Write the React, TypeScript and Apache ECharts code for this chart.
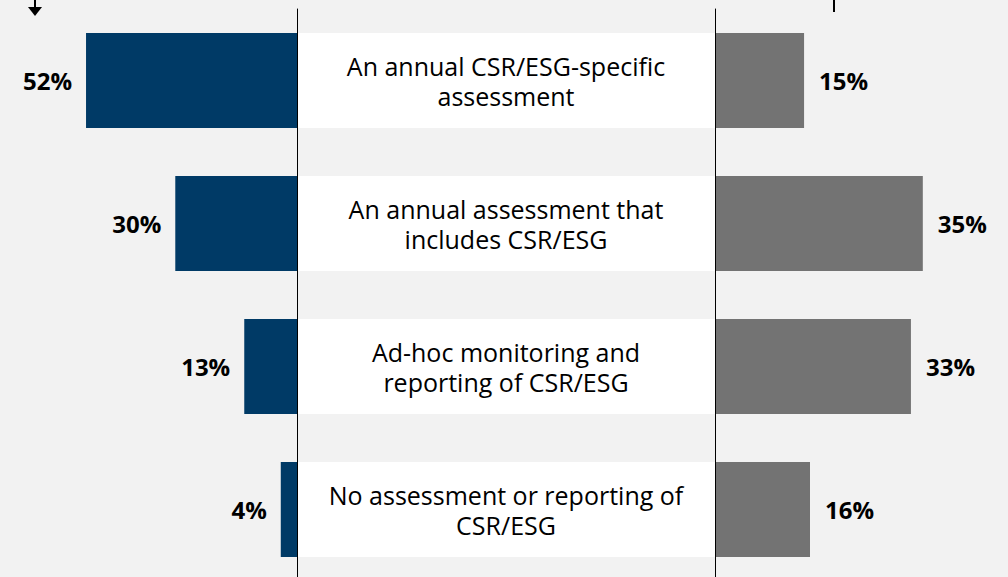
import React, { useEffect, useRef } from "react";
import * as echarts from "echarts";

const categories = [
  "An annual CSR/ESG-specific\nassessment",
  "An annual assessment that\nincludes CSR/ESG",
  "Ad-hoc monitoring and\nreporting of CSR/ESG",
  "No assessment or reporting of\nCSR/ESG",
];
const leftValues = [52, 30, 13, 4];
const rightValues = [15, 35, 33, 16];
const boxValues = [1, 1, 1, 1];

const FONT = "'Open Sans', 'Noto Sans', sans-serif";

export default function App() {
  const ref = useRef<HTMLDivElement>(null);
  useEffect(() => {
    if (!ref.current) return;
    const chart = echarts.init(ref.current, null, { renderer: "svg" });
    const top = 9;
    const height = 572;
    chart.setOption({
      animation: false,
      backgroundColor: "#f2f2f2",
      grid: [
        { left: 13, top, width: 284, height, outerBoundsMode: "none" },
        { left: 297, top, width: 418, height, outerBoundsMode: "none" },
        { left: 715, top, width: 285, height, outerBoundsMode: "none" },
      ],
      xAxis: [
        { type: "value", gridIndex: 0, min: 0, max: 70, inverse: true, show: false },
        { type: "value", gridIndex: 1, min: 0, max: 1, show: false },
        { type: "value", gridIndex: 2, min: 0, max: 48, show: false },
      ],
      yAxis: [
        {
          type: "category", gridIndex: 0, data: categories, inverse: true, position: "right", z: 10,
          axisLine: { show: true, lineStyle: { color: "#000", width: 1 } },
          axisTick: { show: false }, axisLabel: { show: false }, splitLine: { show: false },
        },
        {
          type: "category", gridIndex: 1, data: categories, inverse: true, show: false,
        },
        {
          type: "category", gridIndex: 2, data: categories, inverse: true, position: "left", z: 10,
          axisLine: { show: true, lineStyle: { color: "#000", width: 1 } },
          axisTick: { show: false }, axisLabel: { show: false }, splitLine: { show: false },
        },
      ],
      series: [
        {
          type: "bar", xAxisIndex: 0, yAxisIndex: 0, data: leftValues, barWidth: 95,
          itemStyle: { color: "#003a66" },
          label: {
            show: true, position: "left", distance: 14, formatter: "{c}%",
            fontFamily: FONT, fontWeight: "bold", fontSize: 24, color: "#000",
          },
        },
        {
          type: "bar", xAxisIndex: 1, yAxisIndex: 1, data: boxValues, barWidth: 95,
          itemStyle: { color: "#ffffff" },
          label: {
            show: true, position: "inside",
            formatter: (p: any) => categories[p.dataIndex],
            fontFamily: FONT, fontSize: 25, lineHeight: 30, color: "#000", align: "center",
          },
        },
        {
          type: "bar", xAxisIndex: 2, yAxisIndex: 2, data: rightValues, barWidth: 95,
          itemStyle: { color: "#737373" },
          label: {
            show: true, position: "right", distance: 15, formatter: "{c}%",
            fontFamily: FONT, fontWeight: "bold", fontSize: 24, color: "#000",
          },
        },
      ],
      graphic: [
        { type: "line", shape: { x1: 35, y1: 0, x2: 35, y2: 9 }, style: { stroke: "#000", lineWidth: 2 } },
        { type: "polygon", shape: { points: [[28, 7], [42, 7], [35, 16]] }, style: { fill: "#000" } },
        { type: "line", shape: { x1: 834, y1: 0, x2: 834, y2: 12 }, style: { stroke: "#000", lineWidth: 2 } },
      ],
    });
    return () => chart.dispose();
  }, []);
  return (
    <div
      ref={ref}
      style={{ position: "fixed", left: 0, top: 0, width: 1008, height: 577 }}
    />
  );
}
